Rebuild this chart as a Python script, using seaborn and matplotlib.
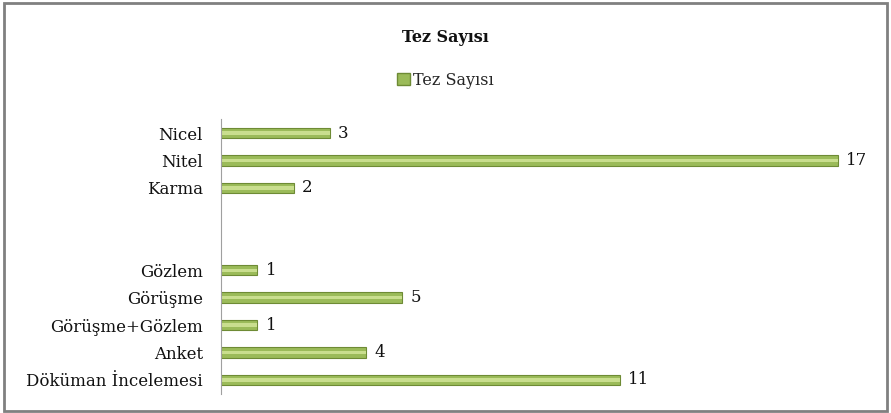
import pandas as pd
import matplotlib.pyplot as plt
import seaborn as sns
from matplotlib.patches import Rectangle, Patch

### ---------------- DATA ---------------- ###
categories = ["Nicel", "Nitel", "Karma",
              "Gözlem", "Görüşme", "Görüşme+Gözlem", "Anket", "Döküman İncelemesi"]
tez_sayisi = [3, 17, 2, 1, 5, 1, 4, 11]
# two empty rows separate the two groups
order = ["Nicel", "Nitel", "Karma", " ", "  ",
         "Gözlem", "Görüşme", "Görüşme+Gözlem", "Anket", "Döküman İncelemesi"]

df = pd.DataFrame({"Kategori": categories, "Tez Sayısı": tez_sayisi})

### ---------------- PLOT ---------------- ###
sns.set_theme(style="white")
plt.rcParams["font.family"] = ["DejaVu Serif", "Liberation Serif"]

fig = plt.figure(figsize=(8.91, 4.13), dpi=100)
ax = fig.add_axes([0.248, 0.047, 0.733, 0.664])

green = "#9BBB59"
sns.barplot(data=df, y="Kategori", x="Tez Sayısı", order=order, color=green,
            width=0.38, edgecolor="#6E8B35", linewidth=0.8, saturation=1, ax=ax)
# lighter highlight stripe inside each bar
sns.barplot(data=df, y="Kategori", x="Tez Sayısı", order=order, color="#C9DE8E",
            width=0.12, linewidth=0, saturation=1, ax=ax)

ax.bar_label(ax.containers[0], padding=6, fontsize=12, color="#111111")

ax.set_xlim(0, 18)
ax.set_ylim(9.5, -0.5)
ax.set_xlabel("")
ax.set_ylabel("")
ax.set_xticks([])
ax.tick_params(axis="y", length=0, labelsize=12, pad=13, colors="#111111")
for side in ["top", "right", "bottom"]:
    ax.spines[side].set_visible(False)
ax.spines["left"].set_color("#A0A0A0")
ax.spines["left"].set_linewidth(0.8)

fig.text(0.5, 0.908, "Tez Sayısı", ha="center", va="center",
         fontsize=11.5, fontweight="bold", color="#111111")
fig.legend(handles=[Patch(facecolor=green, edgecolor="#6E8B35", label="Tez Sayısı")],
           loc="center", bbox_to_anchor=(0.5, 0.806), frameon=False,
           fontsize=11.5, handlelength=0.8, handleheight=0.8, handletextpad=0.2)

# outer chart frame
fig.patches.append(Rectangle((0.004, 0.006), 0.992, 0.986, transform=fig.transFigure,
                             fill=False, edgecolor="#808080", linewidth=2))

plt.savefig("out.png", dpi=100)
